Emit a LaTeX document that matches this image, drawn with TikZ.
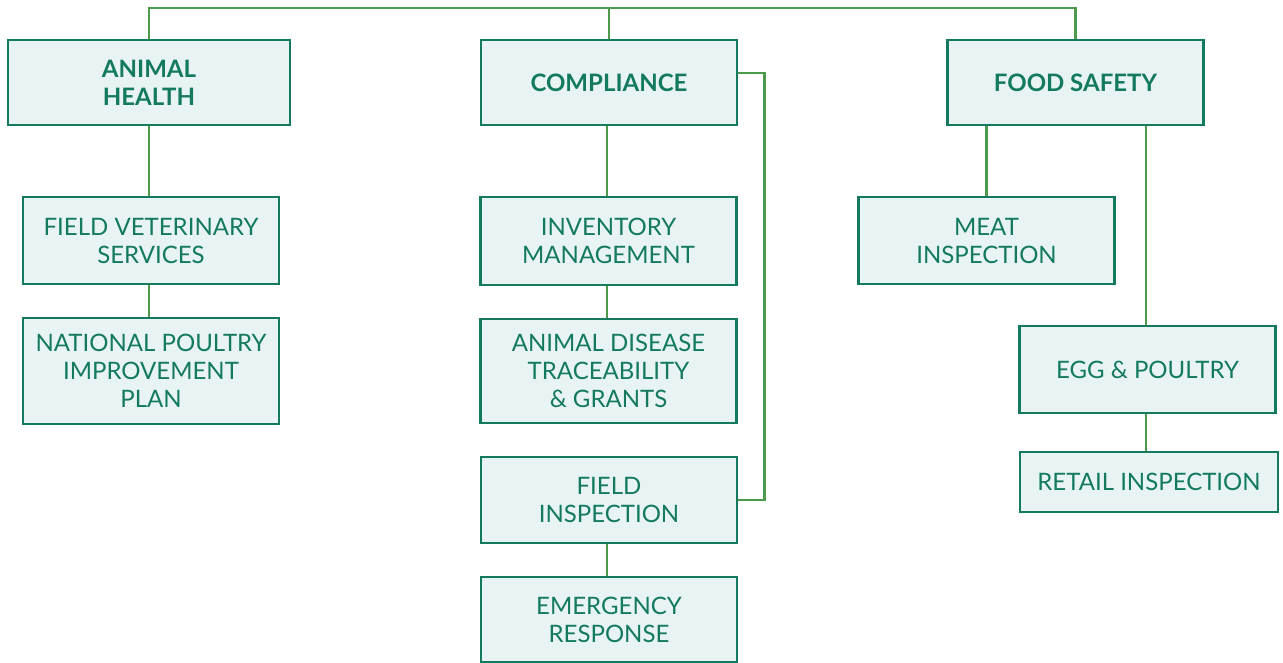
\documentclass[tikz,border=0pt]{standalone}
\usepackage{fontspec}
\setmainfont{Lato}
\definecolor{boxline}{HTML}{137A5F}
\definecolor{boxfill}{HTML}{E8F4F3}
\definecolor{linkgreen}{HTML}{4E9A4C}
\begin{document}
\begin{tikzpicture}[x=1pt,y=-1pt,
        unit/.style={draw=boxline, fill=boxfill, line width=2.8pt, text=boxline,
            align=center, minimum width=256pt, font=\fontsize{24}{28}\selectfont},
        head/.style={unit, minimum height=85pt, font=\fontsize{24}{28}\selectfont\bfseries},
        link/.style={draw=linkgreen, line width=2.4pt}]
    \useasboundingbox (0,0) rectangle (1283,663);

    % top level
    \node[head, minimum width=282pt] (ah) at (149,82.5) {ANIMAL\\HEALTH};
    \node[head] (comp) at (609,82.5) {COMPLIANCE};
    \node[head] (fs) at (1075.5,82.5) {FOOD SAFETY};

    % animal health
    \node[unit, minimum height=87pt] (fvs) at (151,240.5) {FIELD VETERINARY\\SERVICES};
    \node[unit, minimum height=106pt] (npip) at (151,371) {NATIONAL POULTRY\\IMPROVEMENT\\PLAN};

    % compliance
    \node[unit, minimum height=88pt] (inv) at (608.5,241) {INVENTORY\\MANAGEMENT};
    \node[unit, minimum height=104pt] (adt) at (608.5,371) {ANIMAL DISEASE\\TRACEABILITY\\\& GRANTS};
    \node[unit, minimum height=86pt] (fi) at (609,500) {FIELD\\INSPECTION};
    \node[unit, minimum height=85pt] (er) at (609,619.5) {EMERGENCY\\RESPONSE};

    % food safety
    \node[unit, minimum height=87pt] (meat) at (986.5,240.5) {MEAT\\INSPECTION};
    \node[unit, minimum height=87pt] (egg) at (1147.5,369.5) {EGG \& POULTRY};
    \node[unit, minimum height=60pt, minimum width=258pt] (retail) at (1149,482) {RETAIL INSPECTION};

    \coordinate (bar) at (0,8);
    \draw[link] (ah.north) -- (ah.north |- bar) -- (fs.north |- bar) -- (fs.north);
    \draw[link] (comp.north) -- (comp.north |- bar);

    \draw[link] (ah.south) -- (ah.south |- fvs.north);
    \draw[link] (ah.south |- fvs.south) -- (ah.south |- npip.north);

    \draw[link] ([xshift=-2pt]comp.south) -- ([xshift=-2pt]comp.south |- inv.north);
    \draw[link] ([xshift=-1.5pt]inv.south) -- ([xshift=-1.5pt]inv.south |- adt.north);
    \draw[link] ([xshift=-2pt]fi.south) -- ([xshift=-2pt]fi.south |- er.north);
    \draw[link] ([yshift=9.5pt]comp.east) -| ([xshift=26pt]fi.east) -- (fi.east);

    \draw[link] (meat.north) -- (meat.north |- fs.south);
    \draw[link] ([xshift=-1.5pt]egg.north) -- ([xshift=-1.5pt]egg.north |- fs.south);
    \draw[link] ([xshift=-1.5pt]egg.south) -- ([xshift=-1.5pt]egg.south |- retail.north);
\end{tikzpicture}
\end{document}
